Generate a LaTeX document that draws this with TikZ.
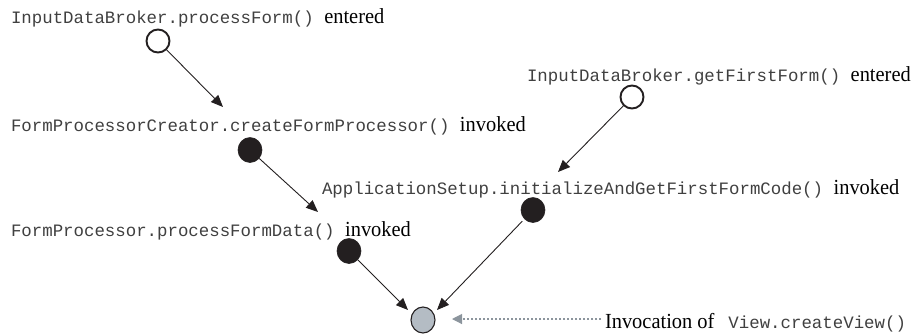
\documentclass[tikz,border=0pt]{standalone}
\usepackage{fontspec}
\usetikzlibrary{arrows.meta,shapes.geometric}
\newfontfamily\codefont{Liberation Mono}
\newfontfamily\wordfont[FakeStretch=0.95]{Liberation Serif}
\definecolor{inkdot}{HTML}{231F20}
\definecolor{viewfill}{HTML}{B4BCC4}
\definecolor{hintgray}{HTML}{8C959D}
\newcommand{\code}[1]{{\codefont\fontsize{17.4}{20}\selectfont\color{black!75}#1}}
\newcommand{\word}[1]{{\wordfont\fontsize{21.5}{24}\selectfont #1}}
\tikzset{
  label text/.style={anchor=base west, inner sep=0pt, outer sep=0pt},
  open dot/.style={ellipse, draw=inkdot, line width=1.9pt, fill=white,
    minimum width=23pt, minimum height=23pt, inner sep=0pt},
  solid dot/.style={ellipse, draw=inkdot, fill=inkdot, line width=0.6pt,
    minimum width=24pt, minimum height=25pt, inner sep=0pt},
  view dot/.style={ellipse, draw=inkdot, fill=viewfill, line width=1.1pt,
    minimum width=24pt, minimum height=26pt, inner sep=0pt},
  flow/.style={draw=inkdot, line width=0.9pt,
    -{Triangle[length=12pt,width=10pt]}},
  hint/.style={draw=hintgray, line width=1.1pt, dash pattern=on 2.5pt off 1.5pt,
    -{Triangle[length=10pt,width=10pt]}},
}
\begin{document}
\begin{tikzpicture}[x=1pt, y=-1pt]
  \useasboundingbox (0,0) rectangle (916,333);

  % method labels
  \node[label text] (l1) at (11,23)  {\code{InputDataBroker.processForm() }\word{entered}};
  \node[label text] (l2) at (11,131) {\code{FormProcessorCreator.createFormProcessor() }\word{invoked}};
  \node[label text] (l3) at (11,236) {\code{FormProcessor.processFormData() }\word{invoked}};
  \node[label text] (l4) at (527,81) {\code{InputDataBroker.getFirstForm() }\word{entered}};
  \node[label text] (l5) at (322,194) {\code{ApplicationSetup.initializeAndGetFirstFormCode() }\word{invoked}};
  \node[label text] (l6) at (605,328) {\word{Invocation of}\hspace{14pt}\code{View.createView()}};

  % events
  \node[open dot]  (c1) at (158,41)  {};
  \node[solid dot] (c2) at (250,150) {};
  \node[solid dot] (c3) at (349,251) {};
  \node[open dot]  (c4) at (632,97)  {};
  \node[solid dot] (c5) at (533,210) {};
  \node[view dot]  (cv) at (423,320) {};

  % arrow tips
  \coordinate (t1) at (223,107);
  \coordinate (t2) at (318,212);
  \coordinate (t3) at (408,310);
  \coordinate (t4) at (558,172);
  \coordinate (t5) at (437,310);
  \coordinate (h0) at (601,319);
  \coordinate (h1) at (452,319);

  % connectors
  \draw[flow] (c1) -- (t1);
  \draw[flow] (c2) -- (t2);
  \draw[flow] (c3) -- (t3);
  \draw[flow] (c4) -- (t4);
  \draw[flow, shorten <=3pt] (c5) -- (t5);
  \draw[hint] (h0) -- (h1);
\end{tikzpicture}
\end{document}
